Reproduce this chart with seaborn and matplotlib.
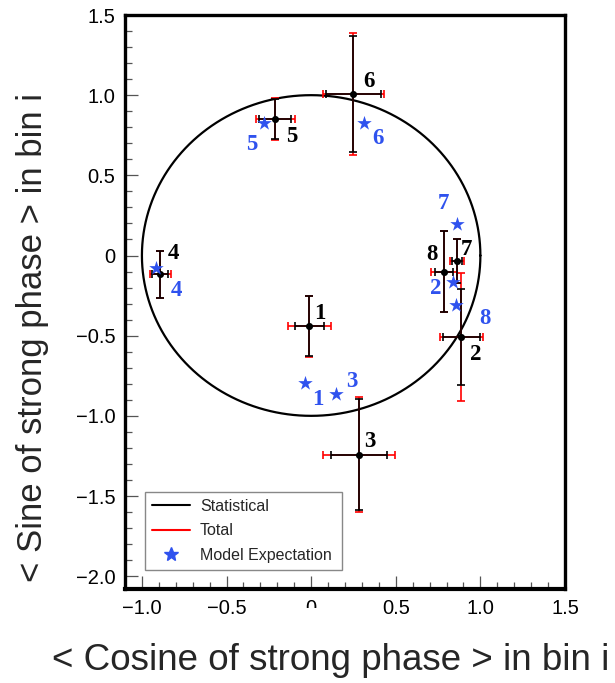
import numpy as np
import pandas as pd
import seaborn as sns
import matplotlib
matplotlib.use("Agg")
import matplotlib.pyplot as plt
from matplotlib.lines import Line2D
from matplotlib.ticker import MultipleLocator, FuncFormatter
from matplotlib.transforms import Bbox

# Measured <cos> and <sin> of the strong phase per bin
bins = [1, 2, 3, 4, 5, 6, 7, 8]
cos_meas = [-0.01, 0.888, 0.284, -0.892, -0.213, 0.25, 0.86, 0.785]
sin_meas = [-0.44, -0.508, -1.242, -0.117, 0.85, 1.006, -0.035, -0.10]
cos_stat = [0.085, 0.107, 0.165, 0.046, 0.096, 0.16, 0.030, 0.055]
cos_total = [0.125, 0.128, 0.212, 0.062, 0.115, 0.18, 0.041, 0.077]
sin_stat = [0.185, 0.30, 0.345, 0.145, 0.125, 0.36, 0.135, 0.25]
sin_total = [0.19, 0.40, 0.36, 0.145, 0.13, 0.38, 0.135, 0.255]

# Model expectation per bin
cos_model = [-0.036, 0.838, 0.148, -0.917, -0.276, 0.31, 0.86, 0.854]
sin_model = [-0.796, -0.167, -0.865, -0.077, 0.829, 0.825, 0.198, -0.31]

# Label offsets (pixels) for the bin numbers
meas_offsets = [(10, 13), (14, -18), (11, 13), (13, 21), (17, -17), (15, 13), (10, 12), (-12, 17)]
model_offsets = [(13, -16), (-17, -6), (16, 13), (20, -23), (-13, -22), (14, -15), (-13, 20), (29, -13)]

blue = "#2f52ee"
sns.set_theme(style="white")
plt.rcParams["font.family"] = ["Liberation Sans", "DejaVu Sans"]

meas = pd.DataFrame({"bin": bins, "c": cos_meas, "s": sin_meas})
model = pd.DataFrame({"bin": bins, "c": cos_model, "s": sin_model})

fig = plt.figure(figsize=(6.15, 6.83), dpi=100)
ax = fig.add_axes([125 / 615, 1 - 589 / 683, 440 / 615, 574 / 683])

# unit circle
t = np.linspace(0, 2 * np.pi, 721)
ax.plot(np.cos(t), np.sin(t), color="black", lw=1.6, zorder=2,
        solid_joinstyle="round", solid_capstyle="round")

# total then statistical error bars
ax.errorbar(cos_meas, sin_meas, xerr=cos_total, yerr=sin_total, fmt="none",
            ecolor="red", elinewidth=1.2, capsize=3.2, capthick=1.2, zorder=3)
ax.errorbar(cos_meas, sin_meas, xerr=cos_stat, yerr=sin_stat, fmt="none",
            ecolor="black", elinewidth=1.2, capsize=3.2, capthick=1.2, zorder=4)
sns.scatterplot(data=meas, x="c", y="s", ax=ax, color="black", s=26,
                edgecolor="black", linewidth=0, zorder=5, legend=False)
sns.scatterplot(data=model, x="c", y="s", ax=ax, color=blue, marker="*", s=120,
                edgecolor=blue, linewidth=0, zorder=5, legend=False)

serif_bold = dict(family=["Liberation Serif", "DejaVu Serif"], weight="bold", fontsize=16.5)
for b, x, y, off in zip(bins, cos_meas, sin_meas, meas_offsets):
    ax.annotate(str(b), (x, y), xytext=off, textcoords="offset pixels",
                ha="center", va="center", color="black", zorder=6, **serif_bold)
for b, x, y, off in zip(bins, cos_model, sin_model, model_offsets):
    ax.annotate(str(b), (x, y), xytext=off, textcoords="offset pixels",
                ha="center", va="center", color=blue, zorder=6, **serif_bold)

ax.set_xlim(-1.1, 1.5)
ax.set_ylim(-2.08, 1.5)

ax.xaxis.set_major_locator(MultipleLocator(0.5))
ax.xaxis.set_minor_locator(MultipleLocator(0.1))
ax.yaxis.set_major_locator(MultipleLocator(0.5))
ax.yaxis.set_minor_locator(MultipleLocator(0.1))


def fmt(v, pos):
    if abs(v) < 1e-9:
        return "0"
    return f"{v:.1f}".replace("-", "\u2212")


ax.xaxis.set_major_formatter(FuncFormatter(fmt))
ax.yaxis.set_major_formatter(FuncFormatter(fmt))
ax.tick_params(axis="both", which="both", direction="in", bottom=True, left=True,
               top=False, right=False, labelsize=14.5, labelcolor="black",
               color="#555555")
ax.tick_params(which="major", length=9.5, width=0.9, pad=7)
ax.tick_params(which="minor", length=5, width=0.9)

for side in ["left", "bottom", "top", "right"]:
    ax.spines[side].set_visible(True)
    ax.spines[side].set_color("black")
    ax.spines[side].set_linewidth(2.4)
ax.spines["bottom"].set_linewidth(3.0)

ax.set_xlabel("")
ax.set_ylabel("")
fig.text(331 / 615, 1 - 660 / 683, "< Cosine of strong phase > in bin i",
         ha="center", va="center", fontsize=26.5)
fig.text(33 / 615, 1 - 337 / 683, "< Sine of strong phase > in bin i",
         ha="center", va="center", rotation=90, fontsize=25)

handles = [Line2D([], [], color="black", lw=1.5),
           Line2D([], [], color="red", lw=1.5),
           Line2D([], [], color=blue, marker="*", lw=0, markersize=10)]
leg = ax.legend(handles, ["Statistical", "Total", "Model Expectation"],
                loc="lower left", bbox_to_anchor=(0.045, 0.033, 0.4475, 0.137),
                mode="expand", fontsize=11.5, frameon=True, fancybox=False,
                edgecolor="#888888", framealpha=1, handlelength=2.4,
                handletextpad=0.6, borderpad=0.45, labelspacing=0.6,
                borderaxespad=0)
leg.get_frame().set_linewidth(1.0)

# the "0" on the x axis is only partly visible
fig.canvas.draw()
for lab in ax.get_xticklabels():
    if lab.get_text() == "0":
        lab.set_clip_on(True)
        lab.set_clip_box(Bbox([[0, 683 - 608], [615, 683 - 597]]))

fig.savefig("out.png", dpi=100)
